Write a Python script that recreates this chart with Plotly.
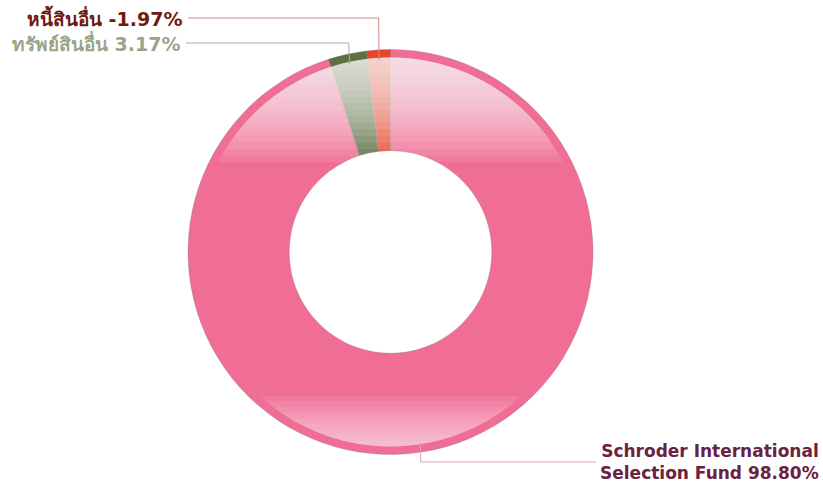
import math
import plotly.graph_objects as go

# ---- data ----
labels = ["Schroder International Selection Fund", "ทรัพย์สินอื่น", "หนี้สินอื่น"]
display_labels = ["Schroder International<br>Selection Fund", "ทรัพย์สินอื่น", "หนี้สินอื่น"]
values = [98.80, 3.17, -1.97]

# ---- styles ----
slice_colors = ["#F06E96", "#5C7040", "#E8462A"]
label_colors = ["#6B2140", "#9AA588", "#6E1B12"]
line_colors = ["#D9A3B8", "#A7AE98", "#CC8C86"]
label_sizes = [17, 19, 19]

W, H = 823, 487
CX, CY, R = 390.5, 252.0, 202.5   # pie geometry in px
HOLE = 0.5
RIM = 8.0

# label layout (px): elbow y, horizontal-line end x, text anchor x
label_line_y = [462, 43, 18]
label_line_end = [596, 186, 188]
text_x = [821, 183, 184]

def px(x):
    return x / W

def py(y):
    return 1 - y / H

abs_vals = [abs(v) for v in values]
fig = go.Figure()
fig.add_trace(go.Pie(
    labels=labels,
    values=abs_vals,
    hole=HOLE,
    sort=False,
    direction="clockwise",
    rotation=0,
    textinfo="none",
    marker=dict(colors=slice_colors, line=dict(color="rgba(110,110,110,0.55)", width=0.5)),
    domain=dict(x=[px(CX - R), px(CX + R)], y=[py(CY + R), py(CY - R)]),
    showlegend=False,
    hoverinfo="label+percent",
))

shapes = []

# ---- glossy highlight: stacked translucent circular caps (decoration) ----
ro = R - RIM
def cap_path(ycut, upper):
    dy = ycut - CY
    half = math.acos(max(-1.0, min(1.0, abs(dy) / ro)))
    pts = []
    m = 60
    for k in range(m + 1):
        t = -half + 2 * half * k / m
        if upper:
            x, y = CX + ro * math.sin(t), CY - ro * math.cos(t)
        else:
            x, y = CX + ro * math.sin(t), CY + ro * math.cos(t)
        pts.append(f"{px(x):.5f},{py(y):.5f}")
    return "M " + " L ".join(pts) + " Z"

top_y, top_end, n_top, a_top = CY - ro, 162.0, 16, 1 - 0.22 ** (1 / 16)
for k in range(1, n_top + 1):
    yk = top_y + k * (top_end - top_y) / n_top
    shapes.append(dict(type="path", xref="paper", yref="paper", path=cap_path(yk, True),
                       fillcolor=f"rgba(255,255,255,{a_top:.3f})", line=dict(width=0)))
bot_y, bot_start, n_bot, a_bot = CY + ro, 396.0, 9, 1 - 0.45 ** (1 / 9)
for k in range(0, n_bot):
    yk = bot_start + k * (bot_y - bot_start) / n_bot
    shapes.append(dict(type="path", xref="paper", yref="paper", path=cap_path(yk, False),
                       fillcolor=f"rgba(255,255,255,{a_bot:.3f})", line=dict(width=0)))

# ---- leader lines computed from the slice mid-angles ----
total = sum(abs_vals)
start = 0.0
annotations = []
for i, v in enumerate(abs_vals):
    frac = v / total
    mid = (start + frac / 2) * 2 * math.pi
    start += frac
    r0 = 0.95 * R
    x0 = CX + r0 * math.sin(mid)
    y0 = CY - r0 * math.cos(mid)
    ey = label_line_y[i]
    ex = x0 + math.sin(mid) * abs(ey - y0) * 0.15
    path = f"M {px(x0)},{py(y0)} L {px(ex)},{py(ey)} L {px(label_line_end[i])},{py(ey)}"
    shapes.append(dict(type="path", xref="paper", yref="paper", path=path,
                       line=dict(color=line_colors[i], width=1)))
    annotations.append(dict(
        x=px(text_x[i]), y=py(ey), xref="paper", yref="paper",
        xanchor="right", yanchor="middle", align="right",
        text=f"<b>{display_labels[i]} {values[i]:.2f}%</b>",
        showarrow=False,
        font=dict(family="DejaVu Sans, Noto Sans, sans-serif", size=label_sizes[i], color=label_colors[i]),
    ))

fig.update_layout(
    width=W, height=H,
    margin=dict(l=0, r=0, t=0, b=0),
    paper_bgcolor="white", plot_bgcolor="white",
    shapes=shapes, annotations=annotations,
)
fig.write_html("out.html", config={"displayModeBar": False},
               post_script="document.body.style.margin='0';")
